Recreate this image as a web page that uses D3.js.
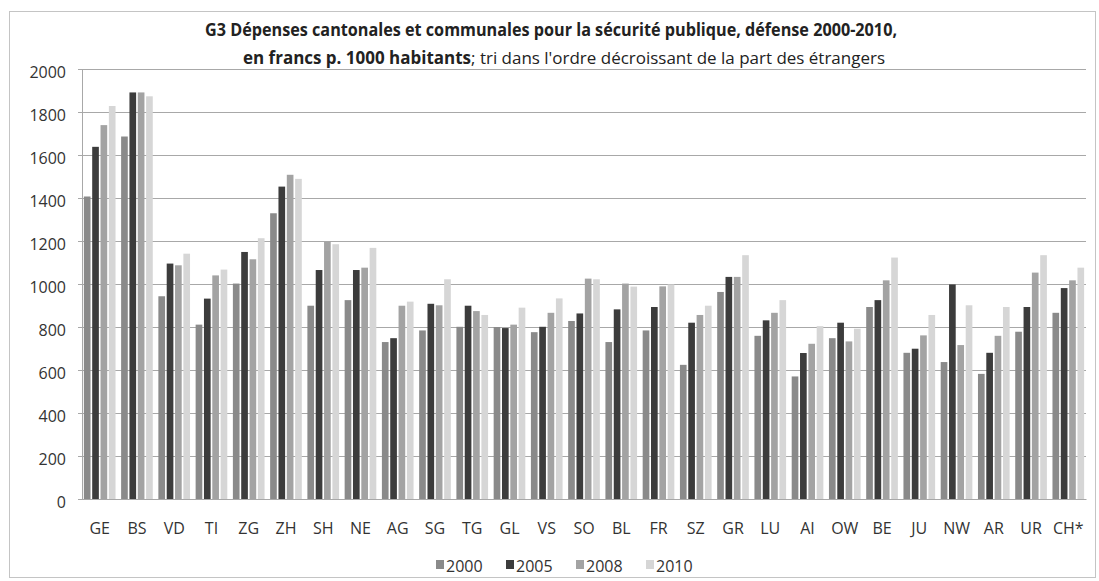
<!DOCTYPE html>
<html>
<head>
<meta charset="utf-8">
<script src="https://cdn.jsdelivr.net/npm/d3@7"></script>
<style>
  body { margin: 0; background: #fff; }
  svg { font-family: 'Open Sans', sans-serif; }
</style>
</head>
<body>
<svg class="chart" width="1099" height="581"></svg>
<script>
// cantons, sorted by share of foreigners (desc)
var cantons = ['GE', 'BS', 'VD', 'TI', 'ZG', 'ZH', 'SH', 'NE', 'AG', 'SG', 'TG', 'GL', 'VS', 'SO',
  'BL', 'FR', 'SZ', 'GR', 'LU', 'AI', 'OW', 'BE', 'JU', 'NW', 'AR', 'UR', 'CH*']
var years = ['2000', '2005', '2008', '2010']

var v2000 = [1407, 1686, 943, 811, 1002, 1329, 899, 925, 730, 784, 801, 800, 776, 828,
  730, 784, 624, 963, 759, 570, 748, 893, 680, 637, 582, 778, 866]
var v2005 = [1638, 1891, 1095, 932, 1149, 1453, 1065, 1065, 748, 908, 899, 795, 801, 863,
  882, 893, 820, 1033, 831, 679, 820, 925, 699, 998, 680, 893, 981]
var v2008 = [1739, 1891, 1087, 1040, 1115, 1508, 1196, 1076, 899, 901, 874, 811, 866, 1025,
  1002, 989, 856, 1033, 866, 722, 733, 1017, 761, 716, 759, 1053, 1017]
var v2010 = [1828, 1873, 1141, 1067, 1213, 1489, 1185, 1168, 918, 1022, 856, 890, 933, 1022,
  988, 998, 899, 1134, 925, 804, 792, 1123, 856, 901, 893, 1134, 1076]

var yTicks = [0, 200, 400, 600, 800, 1000, 1200, 1400, 1600, 1800, 2000]

var series = [v2000, v2005, v2008, v2010]
var colors = ['#8a8a8a', '#3c3c3c', '#a3a3a3', '#d6d6d6']

var svg = d3.select('.chart')

// outer frame
svg.append('rect')
  .attr('x', 9.5).attr('y', 11.5)
  .attr('width', 1086).attr('height', 566)
  .attr('fill', 'none')
  .attr('stroke', '#c4c4c4')

const plotLeft = 82, plotRight = 1086, plotTop = 69, plotBottom = 499

const x = d3.scaleBand()
  .domain(cantons)
  .range([plotLeft, plotRight])
  .paddingInner(0.15)
  .paddingOuter(0.05)

const xIn = d3.scaleBand()
  .domain(years)
  .range([0, x.bandwidth()])
  .paddingInner(0.2)

const y = d3.scaleLinear()
  .domain([0, 2000])
  .range([plotBottom, plotTop])

// horizontal lines
svg.append('g')
  .attr('class', 'grid')
  .attr('transform', 'translate(' + plotLeft + ',0)')
  .call(d3.axisLeft(y).tickValues(yTicks).tickSize(-(plotRight - plotLeft)).tickFormat(''))
  .call(g => g.select('.domain').remove())
  .selectAll('line')
  .attr('stroke', '#a8a8a8')

// y axis
const yAxis = svg.append('g')
  .attr('transform', 'translate(' + plotLeft + ',0)')
  .call(d3.axisLeft(y).tickValues(yTicks).tickFormat(d3.format('d')).tickSize(4).tickPadding(12))
yAxis.select('.domain').attr('stroke', '#a8a8a8')
yAxis.selectAll('line').attr('stroke', '#a8a8a8')
yAxis.selectAll('text')
  .attr('font-size', 16)
  .attr('fill', '#333')
  .attr('dy', '0.55em')
  .attr('font-family', "'Open Sans', sans-serif")

// bars
const groups = svg.append('g')
  .selectAll('g')
  .data(cantons)
  .enter()
  .append('g')
  .attr('transform', d => 'translate(' + x(d) + ',0)')

groups.selectAll('rect')
  .data((d, i) => years.map((yr, s) => ({ year: yr, s: s, value: series[s][i] })))
  .enter()
  .append('rect')
  .attr('x', d => xIn(d.year))
  .attr('y', d => y(d.value))
  .attr('width', xIn.bandwidth())
  .attr('height', d => y(0) - y(d.value))
  .attr('fill', d => colors[d.s])

// x axis
const xAxis = svg.append('g')
  .attr('transform', 'translate(0,' + plotBottom + ')')
  .call(d3.axisBottom(x).tickSize(0).tickPadding(24))
xAxis.select('.domain').attr('stroke', '#a8a8a8')
xAxis.selectAll('text')
  .attr('font-size', 16)
  .attr('fill', '#333')
  .attr('font-family', "'Open Sans', sans-serif")

//title
svg.append('text')
  .attr('x', 205).attr('y', 36)
  .attr('textLength', 692)
  .attr('lengthAdjust', 'spacingAndGlyphs')
  .attr('font-size', 17)
  .attr('font-weight', 'bold')
  .attr('fill', '#222')
  .text('G3 Dépenses  cantonales et communales pour la sécurité publique,  défense 2000-2010,')

const t2 = svg.append('text')
  .attr('x', 243).attr('y', 64)
  .attr('textLength', 642)
  .attr('lengthAdjust', 'spacingAndGlyphs')
  .attr('font-size', 17)
  .attr('fill', '#222')
t2.append('tspan').attr('font-weight', 'bold').text('en francs p. 1000 habitants')
t2.append('tspan').text("; tri dans l'ordre décroissant de la part des étrangers")

// legend
const legendX = [436, 506, 576, 646]
const legend = svg.append('g')
  .selectAll('g')
  .data(years)
  .enter()
  .append('g')
  .attr('transform', (d, i) => 'translate(' + legendX[i] + ',560)')

legend.append('rect')
  .attr('width', 8).attr('height', 9)
  .attr('y', 0)
  .attr('fill', (d, i) => colors[i])

legend.append('text')
  .attr('x', 10).attr('y', 12)
  .attr('font-size', 16)
  .attr('fill', '#333')
  .text(d => d)
</script>
</body>
</html>
